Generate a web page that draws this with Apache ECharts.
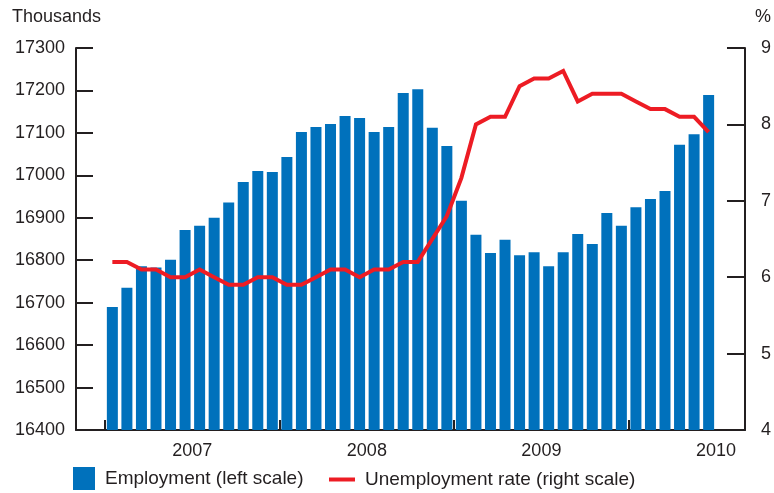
<!DOCTYPE html>
<html>
<head>
<meta charset="utf-8">
<script src="https://cdn.jsdelivr.net/npm/echarts@6/dist/echarts.min.js"></script>
<style>
  html, body { margin: 0; padding: 0; background: #fff; }
  #chart { width: 774px; height: 493px; }
</style>
</head>
<body>
<div id="chart"></div>
<script>
// monthly data, Jan 2007 - Jun 2010
const months = [
  '2007-01','2007-02','2007-03','2007-04','2007-05','2007-06','2007-07','2007-08','2007-09','2007-10','2007-11','2007-12',
  '2008-01','2008-02','2008-03','2008-04','2008-05','2008-06','2008-07','2008-08','2008-09','2008-10','2008-11','2008-12',
  '2009-01','2009-02','2009-03','2009-04','2009-05','2009-06','2009-07','2009-08','2009-09','2009-10','2009-11','2009-12',
  '2010-01','2010-02','2010-03','2010-04','2010-05','2010-06'
];
// empty months either side of the bars
const padBefore = ['2006-11', '2006-12'];
const padAfter = ['2010-07', '2010-08'];

const employment = [
  16690, 16735, 16786, 16783, 16801, 16871, 16881, 16900, 16936, 16984, 17010, 17008,
  17043, 17102, 17114, 17121, 17140, 17135, 17102, 17114, 17194, 17203, 17112, 17069,
  16940, 16860, 16817, 16848, 16812, 16819, 16786, 16819, 16862, 16838, 16911, 16881,
  16925, 16944, 16963, 17072, 17097, 17189
];
const unemployment = [
  6.2, 6.2, 6.1, 6.1, 6.0, 6.0, 6.1, 6.0, 5.9, 5.9, 6.0, 6.0,
  5.9, 5.9, 6.0, 6.1, 6.1, 6.0, 6.1, 6.1, 6.2, 6.2, 6.5, 6.8,
  7.3, 8.0, 8.1, 8.1, 8.5, 8.6, 8.6, 8.7, 8.3, 8.4, 8.4, 8.4,
  8.3, 8.2, 8.2, 8.1, 8.1, 7.9
];
const years = ['2007', '2008', '2009', '2010'];
const yearTicks = [0, 12, 24, 36];     // month offset of each January
const yearLabels = [6, 18, 30, 42];    // middle of each year

const ink = '#231f20';
const font = 'Liberation Sans, Arial, Helvetica, sans-serif';

const categories = padBefore.concat(months, padAfter);
const pad = (arr) => padBefore.map(() => '-').concat(arr, padAfter.map(() => '-'));

const chart = echarts.init(document.getElementById('chart'));

const option = {
  animation: false,
  textStyle: { fontFamily: font, color: ink },
  title: [
    { text: 'Thousands', left: 7, top: 3, textStyle: { fontFamily: font, fontSize: 18, fontWeight: 'normal', color: ink } },
    { text: '%', left: 750, top: 3, textStyle: { fontFamily: font, fontSize: 18, fontWeight: 'normal', color: ink } }
  ],
  grid: { left: 76, right: 29, top: 48, bottom: 63 },
  legend: [
    {
      data: [{ name: 'Employment (left scale)', icon: 'rect' }],
      left: 73, top: 467, padding: 0, itemWidth: 22, itemHeight: 23, selectedMode: false,
      textStyle: { fontFamily: font, fontSize: 19, color: ink, padding: [3, 0, 0, 5] }
    },
    {
      data: [{ name: 'Unemployment rate (right scale)', icon: 'rect' }],
      left: 329, top: 470, padding: 0, itemWidth: 26, itemHeight: 4, selectedMode: false,
      textStyle: { fontFamily: font, fontSize: 19, color: ink, padding: [0, 0, 0, 5] }
    }
  ],
  xAxis: [
    {
      type: 'category',
      data: categories,
      boundaryGap: true,
      axisLine: { lineStyle: { color: ink, width: 2 } },
      axisTick: { show: false },
      axisLabel: { show: false },
      splitLine: { show: false }
    },
    {
      type: 'value',
      position: 'bottom',
      min: -2,
      max: 44,
      axisLine: { show: false },
      splitLine: { show: false },
      axisTick: {
        show: true, inside: true, length: 10,
        customValues: yearTicks,
        lineStyle: { color: ink, width: 2 }
      },
      axisLabel: {
        customValues: yearLabels,
        margin: 12,
        fontFamily: font,
        fontSize: 18,
        color: ink,
        formatter: (v) => years[yearLabels.indexOf(v)]
      }
    }
  ],
  yAxis: [
    {
      type: 'value',
      min: 16400, max: 17300, interval: 100,
      axisLine: { show: true, onZero: false, lineStyle: { color: ink, width: 2 } },
      axisTick: { show: true, inside: true, length: 17, lineStyle: { color: ink, width: 2 } },
      axisLabel: { margin: 11, fontFamily: font, fontSize: 18, color: ink, formatter: (v) => String(v) },
      splitLine: { show: false }
    },
    {
      type: 'value',
      min: 4, max: 9, interval: 1,
      position: 'right',
      axisLine: { show: true, onZero: false, lineStyle: { color: ink, width: 2 } },
      axisTick: { show: true, inside: true, length: 18, lineStyle: { color: ink, width: 2 } },
      axisLabel: { margin: 16, fontFamily: font, fontSize: 18, color: ink },
      splitLine: { show: false }
    }
  ],
  series: [
    {
      name: 'Employment (left scale)',
      type: 'bar',
      xAxisIndex: 0,
      yAxisIndex: 0,
      barWidth: 11,
      itemStyle: { color: '#0071bc' },
      data: pad(employment)
    },
    {
      name: 'Unemployment rate (right scale)',
      type: 'line',
      xAxisIndex: 0,
      yAxisIndex: 1,
      showSymbol: false,
      symbol: 'none',
      itemStyle: { color: '#ed1c24' },
      lineStyle: { color: '#ed1c24', width: 4, join: 'miter' },
      data: pad(unemployment)
    }
  ]
};

chart.setOption(option);
</script>
</body>
</html>
